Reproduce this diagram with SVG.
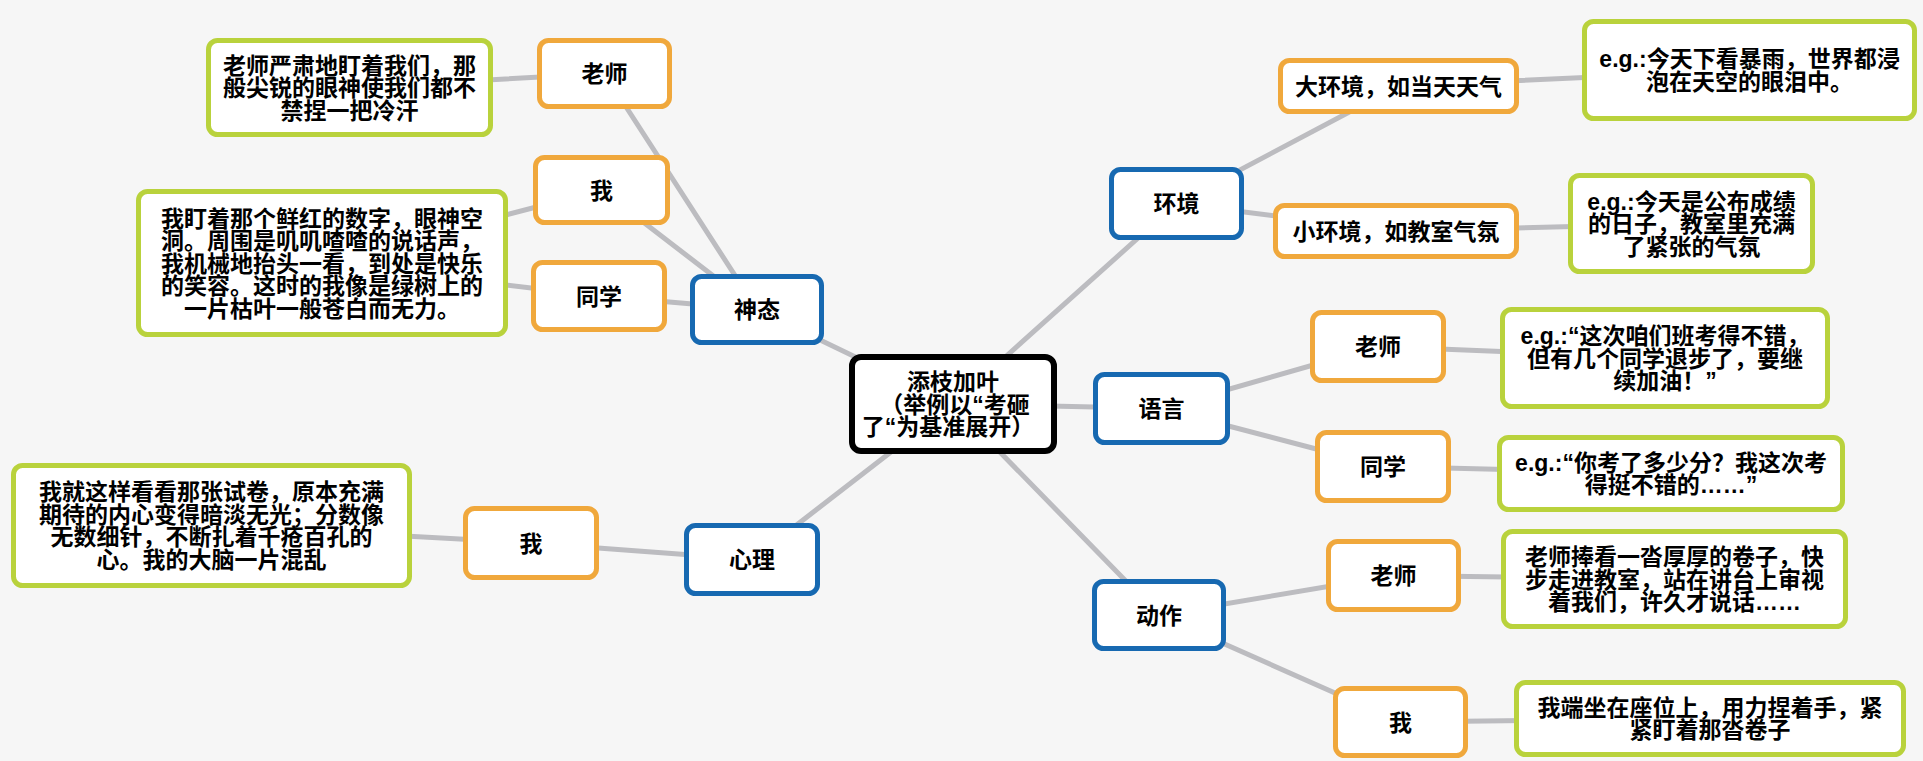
<svg xmlns="http://www.w3.org/2000/svg" width="1923" height="761" viewBox="0 0 1923 761">
<style>
.n rect{fill:#ffffff;stroke-width:5}
.root rect{stroke:#000000;stroke-width:6}
.b rect{stroke:#1769b1}
.o rect{stroke:#f0a83c}
.g rect{stroke:#b9d23c}
text{font-family:"Liberation Sans","Noto Sans CJK SC",sans-serif;font-weight:bold;font-size:23px;fill:#000000;text-anchor:middle}
.c line{stroke:#bcbcc0;stroke-width:5;stroke-linecap:round}
</style>
<rect x="0" y="0" width="1923" height="761" fill="#f6f6f6"/>
<g id="connectors" class="c">
<line x1="953" y1="404" x2="757" y2="309.5"/>
<line x1="953" y1="404" x2="1176.5" y2="203.5"/>
<line x1="953" y1="404" x2="1161.5" y2="408.5"/>
<line x1="953" y1="404" x2="752" y2="559.5"/>
<line x1="953" y1="404" x2="1159" y2="615"/>
<line x1="757" y1="309.5" x2="604.5" y2="73.5"/>
<line x1="757" y1="309.5" x2="601.5" y2="190"/>
<line x1="757" y1="309.5" x2="599" y2="296"/>
<line x1="604.5" y1="73.5" x2="349.5" y2="87.5"/>
<line x1="601.5" y1="190" x2="322" y2="263"/>
<line x1="599" y1="296" x2="322" y2="263"/>
<line x1="752" y1="559.5" x2="531" y2="543"/>
<line x1="531" y1="543" x2="211.5" y2="525.5"/>
<line x1="1176.5" y1="203.5" x2="1398.5" y2="86"/>
<line x1="1176.5" y1="203.5" x2="1396" y2="231"/>
<line x1="1398.5" y1="86" x2="1749.5" y2="70"/>
<line x1="1396" y1="231" x2="1691.5" y2="223.5"/>
<line x1="1161.5" y1="408.5" x2="1378" y2="346.5"/>
<line x1="1161.5" y1="408.5" x2="1383" y2="466.5"/>
<line x1="1378" y1="346.5" x2="1665" y2="358"/>
<line x1="1383" y1="466.5" x2="1671" y2="473.5"/>
<line x1="1159" y1="615" x2="1393.5" y2="575.5"/>
<line x1="1159" y1="615" x2="1400.5" y2="722"/>
<line x1="1393.5" y1="575.5" x2="1674.5" y2="579"/>
<line x1="1400.5" y1="722" x2="1710" y2="718.5"/>
</g>
<g id="root" class="n root"><rect x="852" y="357" width="202" height="94" rx="9"/>
<text x="953" y="390">添枝加叶</text><text x="955" y="412.5">（举例以“考砸</text><text x="948" y="435">了“为基准展开）</text></g>
<g id="shentai" class="n b"><rect x="692.5" y="276.5" width="129" height="66" rx="9"/><text x="757" y="318">神态</text></g>
<g id="shentai-laoshi" class="n o"><rect x="539.5" y="40.5" width="130" height="66" rx="9"/><text x="604.5" y="82">老师</text></g>
<g id="shentai-wo" class="n o"><rect x="535.5" y="157.5" width="132" height="65" rx="9"/><text x="601.5" y="198.5">我</text></g>
<g id="shentai-tongxue" class="n o"><rect x="533.5" y="262.5" width="131" height="67" rx="9"/><text x="599" y="304.5">同学</text></g>
<g id="shentai-laoshi-detail" class="n g"><rect x="208.5" y="40.5" width="282" height="94" rx="9"/>
<text x="349.5" y="73.5">老师严肃地盯着我们，那</text><text x="349.5" y="96">般尖锐的眼神使我们都不</text><text x="349.5" y="118.5">禁捏一把冷汗</text></g>
<g id="shentai-wo-detail" class="n g"><rect x="138.5" y="191.5" width="367" height="143" rx="9"/>
<text x="322" y="226.5">我盯着那个鲜红的数字，眼神空</text><text x="322" y="249">洞。周围是叽叽喳喳的说话声，</text><text x="322" y="271.5">我机械地抬头一看，到处是快乐</text><text x="322" y="294">的笑容。这时的我像是绿树上的</text><text x="322" y="316.5">一片枯叶一般苍白而无力。</text></g>
<g id="xinli" class="n b"><rect x="686.5" y="525.5" width="131" height="68" rx="9"/><text x="752" y="568">心理</text></g>
<g id="xinli-wo" class="n o"><rect x="465.5" y="508.5" width="131" height="69" rx="9"/><text x="531" y="551.5">我</text></g>
<g id="xinli-wo-detail" class="n g"><rect x="13.5" y="465.5" width="396" height="120" rx="9"/>
<text x="211.5" y="500.25">我就这样看看那张试卷，原本充满</text><text x="211.5" y="522.75">期待的内心变得暗淡无光；分数像</text><text x="211.5" y="545.25">无数细针，不断扎着千疮百孔的</text><text x="211.5" y="567.75">心。我的大脑一片混乱</text></g>
<g id="huanjing" class="n b"><rect x="1111.5" y="169.5" width="130" height="68" rx="9"/><text x="1176.5" y="212">环境</text></g>
<g id="da-huanjing" class="n o"><rect x="1280.5" y="60.5" width="236" height="51" rx="9"/><text x="1398.5" y="94.5">大环境，如当天天气</text></g>
<g id="da-huanjing-detail" class="n g"><rect x="1584.5" y="21.5" width="330" height="97" rx="9"/>
<text x="1749.5" y="67.25">e.g.:今天下看暴雨，世界都浸</text><text x="1749.5" y="89.75">泡在天空的眼泪中。</text></g>
<g id="xiao-huanjing" class="n o"><rect x="1275.5" y="205.5" width="241" height="51" rx="9"/><text x="1396" y="239.5">小环境，如教室气氛</text></g>
<g id="xiao-huanjing-detail" class="n g"><rect x="1570.5" y="175.5" width="242" height="96" rx="9"/>
<text x="1691.5" y="209.5">e.g.:今天是公布成绩</text><text x="1691.5" y="232">的日子，教室里充满</text><text x="1691.5" y="254.5">了紧张的气氛</text></g>
<g id="yuyan" class="n b"><rect x="1095.5" y="374.5" width="132" height="68" rx="9"/><text x="1161.5" y="417">语言</text></g>
<g id="yuyan-laoshi" class="n o"><rect x="1312.5" y="312.5" width="131" height="68" rx="9"/><text x="1378" y="355">老师</text></g>
<g id="yuyan-laoshi-detail" class="n g"><rect x="1502.5" y="309.5" width="325" height="97" rx="9"/>
<text x="1665" y="344">e.g.:“这次咱们班考得不错，</text><text x="1665" y="366.5">但有几个同学退步了，要继</text><text x="1665" y="389">续加油！”</text></g>
<g id="yuyan-tongxue" class="n o"><rect x="1317.5" y="432.5" width="131" height="68" rx="9"/><text x="1383" y="475">同学</text></g>
<g id="yuyan-tongxue-detail" class="n g"><rect x="1499.5" y="437.5" width="343" height="72" rx="9"/>
<text x="1671" y="470.75">e.g.:“你考了多少分？我这次考</text><text x="1671" y="493.25">得挺不错的……”</text></g>
<g id="dongzuo" class="n b"><rect x="1094.5" y="581.5" width="129" height="67" rx="9"/><text x="1159" y="623.5">动作</text></g>
<g id="dongzuo-laoshi" class="n o"><rect x="1328.5" y="541.5" width="130" height="68" rx="9"/><text x="1393.5" y="584">老师</text></g>
<g id="dongzuo-laoshi-detail" class="n g"><rect x="1503.5" y="531.5" width="342" height="95" rx="9"/>
<text x="1674.5" y="565">老师捧看一沓厚厚的卷子，快</text><text x="1674.5" y="587.5">步走进教室，站在讲台上审视</text><text x="1674.5" y="610">着我们，许久才说话……</text></g>
<g id="dongzuo-wo" class="n o"><rect x="1335.5" y="688.5" width="130" height="67" rx="9"/><text x="1400.5" y="730.5">我</text></g>
<g id="dongzuo-wo-detail" class="n g"><rect x="1516.5" y="682.5" width="387" height="72" rx="9"/>
<text x="1710" y="715.75">我端坐在座位上，用力捏着手，紧</text><text x="1710" y="738.25">紧盯着那沓卷子</text></g>
</svg>
